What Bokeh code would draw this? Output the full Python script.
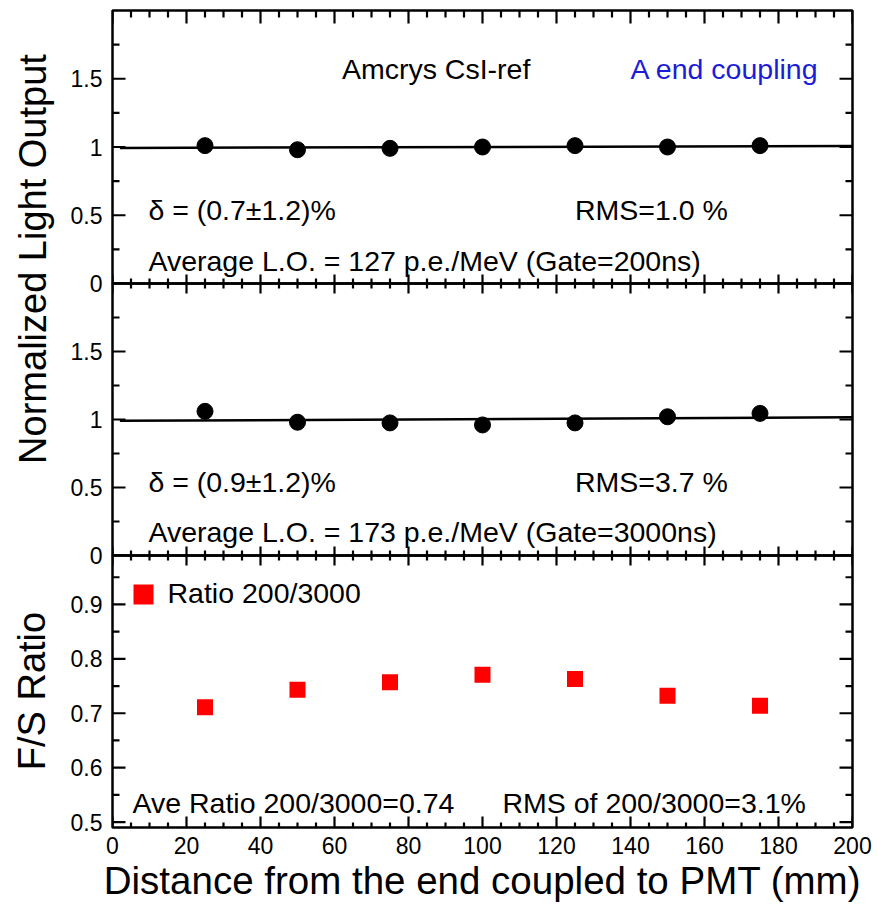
import numpy as np
from bokeh.plotting import figure
from bokeh.models import Range1d, LinearAxis, FixedTicker, Label, Legend, LegendItem
from bokeh.layouts import row, column
from bokeh.embed import file_html
from bokeh.resources import INLINE

FONT = "Liberation Sans"

# ---------------- data ----------------
distance_mm = [25, 50, 75, 100, 125, 150, 175]
lo_gate200 = [1.01, 0.98, 0.99, 1.00, 1.01, 1.00, 1.01]
lo_gate3000 = [1.06, 0.98, 0.975, 0.96, 0.975, 1.02, 1.045]
fs_ratio = [0.711, 0.743, 0.757, 0.771, 0.763, 0.732, 0.714]

fit_x = [2, 200]
fit_gate200 = [0.993, 1.007]
fit_gate3000 = [0.99, 1.017]

x_ticks = [0, 20, 40, 60, 80, 100, 120, 140, 160, 180, 200]
x_tick_labels = ["0", "20", "40", "60", "80", "100", "120", "140", "160", "180", "200"]
x_minor = [5, 10, 15, 25, 30, 35, 45, 50, 55, 65, 70, 75, 85, 90, 95,
           105, 110, 115, 125, 130, 135, 145, 150, 155, 165, 170, 175, 185, 190, 195]

lo_ticks = [0, 0.5, 1, 1.5]
lo_tick_labels = ["0", "0.5", "1", "1.5"]
lo_minor = [0.25, 0.75, 1.25, 1.75]

fs_ticks = [0.5, 0.6, 0.7, 0.8, 0.9]
fs_tick_labels = ["0.5", "0.6", "0.7", "0.8", "0.9"]
fs_minor = [0.55, 0.65, 0.75, 0.85, 0.95]

# ---------------- layout constants ----------------
X0, X1 = 0, 200
TITLE_W = 60
FIG_W = 815
FRAME_W = 740
LEFT_B = 52
RIGHT_B = FIG_W - LEFT_B - FRAME_W
OVER = 14   # extra border used for overlapping neighbouring panels
x_range = Range1d(X0, X1)
PX_X = (X1 - X0) / FRAME_W   # data units per screen pixel along x
TICK_W = 2.2                 # tick thickness in pixels


def label_axis(p, side, ticks, labels, standoff):
    ax = LinearAxis(ticker=FixedTicker(ticks=ticks),
                    major_label_overrides=dict(zip(ticks, labels)))
    ax.axis_line_color = None
    ax.major_tick_in = 0
    ax.major_tick_out = 0
    ax.minor_tick_in = 0
    ax.minor_tick_out = 0
    ax.major_tick_line_color = None
    ax.minor_tick_line_color = None
    ax.major_label_text_font = FONT
    ax.major_label_text_font_size = "23px"
    ax.major_label_text_color = "black"
    ax.major_label_standoff = standoff
    p.add_layout(ax, side)
    return ax


def tick_quads(p, left, right, bottom, top):
    p.quad(left=left, right=right, bottom=bottom, top=top,
           fill_color="black", fill_alpha=1.0, line_color=None)


def y_ticks(p, major, minor, px_y):
    half = TICK_W / 2 * px_y
    for vals, length in ((major, 13), (minor, 7)):
        n = len(vals)
        lo = [v - half for v in vals]
        hi = [v + half for v in vals]
        tick_quads(p, [X0] * n, [X0 + length * PX_X] * n, lo, hi)
        tick_quads(p, [X1 - length * PX_X] * n, [X1] * n, lo, hi)


def x_ticks_at(p, y, direction, px_y, major_len, minor_len):
    half = TICK_W / 2 * PX_X
    for vals, length in ((x_ticks, major_len), (x_minor, minor_len)):
        n = len(vals)
        y_end = y + direction * length * px_y
        tick_quads(p, [v - half for v in vals], [v + half for v in vals],
                   [min(y, y_end)] * n, [max(y, y_end)] * n)


def make_panel(height, y_range, top_b, bottom_b):
    p = figure(width=FIG_W, height=height, x_range=x_range, y_range=y_range,
               output_backend="svg", toolbar_location=None,
               x_axis_location=None, y_axis_location=None,
               min_border_left=LEFT_B, min_border_right=RIGHT_B,
               min_border_top=top_b, min_border_bottom=bottom_b)
    p.grid.visible = False
    p.outline_line_color = "black"
    p.outline_line_width = 2.5
    p.background_fill_color = None
    p.border_fill_color = None
    return p


def add_text(p, x, y, text, color="black"):
    p.add_layout(Label(x=x, y=y, text=text, text_font=FONT, text_font_size="28.5px",
                       text_color=color, text_align="left", text_baseline="middle"))


# ---------------- panel 1 ----------------
H1 = 273
p1 = make_panel(10 + H1 + OVER, Range1d(0, 2), 10, OVER)
py1 = 2 / H1
label_axis(p1, "left", lo_ticks, lo_tick_labels, 10)
p1.line(fit_x, fit_gate200, line_color="black", line_width=2.5)
p1.scatter(distance_mm, lo_gate200, size=16, marker="circle",
           fill_color="black", line_color="black")
y_ticks(p1, lo_ticks, lo_minor, py1)
x_ticks_at(p1, 2, -1, py1, 13, 7)
x_ticks_at(p1, 0, 1, py1, 9, 5)
add_text(p1, 62, 1.575, "Amcrys CsI-ref")
add_text(p1, 140, 1.575, "A end coupling", color="#1c1cd8")
add_text(p1, 9.7, 0.542, "\u03b4 = (0.7\u00b11.2)%")
add_text(p1, 125, 0.542, "RMS=1.0 %")
add_text(p1, 9.7, 0.168, "Average L.O. = 127 p.e./MeV (Gate=200ns)")

# ---------------- panel 2 ----------------
H2 = 272
p2 = make_panel(OVER + H2 + OVER, Range1d(0, 2), OVER, OVER)
p2.margin = (-2 * OVER, 0, 0, 0)
py2 = 2 / H2
label_axis(p2, "left", lo_ticks, lo_tick_labels, 10)
p2.line(fit_x, fit_gate3000, line_color="black", line_width=2.5)
p2.scatter(distance_mm, lo_gate3000, size=16, marker="circle",
           fill_color="black", line_color="black")
y_ticks(p2, lo_ticks, lo_minor, py2)
x_ticks_at(p2, 2, -1, py2, 10, 5)
x_ticks_at(p2, 0, 1, py2, 9, 5)
add_text(p2, 9.7, 0.544, "\u03b4 = (0.9\u00b11.2)%")
add_text(p2, 125, 0.544, "RMS=3.7 %")
add_text(p2, 9.7, 0.176, "Average L.O. = 173 p.e./MeV (Gate=3000ns)")

# ---------------- panel 3 ----------------
H3 = 272
p3 = make_panel(OVER + H3 + 80, Range1d(0.49, 0.99), OVER, 80)
p3.margin = (-2 * OVER, 0, 0, 0)
py3 = 0.5 / H3
label_axis(p3, "left", fs_ticks, fs_tick_labels, 10)
bottom = label_axis(p3, "below", x_ticks, x_tick_labels, 9)
bottom.axis_label = "Distance from the end coupled to PMT (mm)"
bottom.axis_label_text_font = FONT
bottom.axis_label_text_font_size = "38.5px"
bottom.axis_label_text_font_style = "normal"
bottom.axis_label_text_color = "black"
bottom.axis_label_standoff = 2
r3 = p3.scatter(distance_mm, fs_ratio, size=16, marker="square",
                fill_color="red", line_color=None)
y_ticks(p3, fs_ticks, fs_minor, py3)
x_ticks_at(p3, 0.99, -1, py3, 10, 5)
x_ticks_at(p3, 0.49, 1, py3, 11, 5)
legend = Legend(items=[LegendItem(label="Ratio 200/3000", renderers=[r3])],
                location=(5.5, 208.5), glyph_width=50, glyph_height=50,
                padding=0, margin=0, spacing=0, label_standoff=0,
                border_line_color=None, background_fill_alpha=0,
                label_text_font=FONT, label_text_font_size="28.5px",
                label_text_color="black")
p3.add_layout(legend)
add_text(p3, 5.4, 0.535, "Ave Ratio 200/3000=0.74")
add_text(p3, 105.4, 0.535, "RMS of 200/3000=3.1%")

# ---------------- y-axis titles ----------------
TOTAL_H = (10 + H1 + OVER) + (H2 + OVER) + (H3 + 80 - OVER)
tp = figure(width=TITLE_W, height=TOTAL_H, x_range=Range1d(0, TITLE_W),
            y_range=Range1d(TOTAL_H, 0), output_backend="svg",
            toolbar_location=None, x_axis_location=None, y_axis_location=None,
            min_border=0)
tp.outline_line_color = None
tp.grid.visible = False
tp.background_fill_color = None
tp.border_fill_color = None
tp.add_layout(Label(x=32, y=258.5, text="Normalized Light Output", angle=np.pi / 2,
                    text_font=FONT, text_font_size="38px", text_align="center",
                    text_baseline="middle", text_color="black"))
tp.add_layout(Label(x=31, y=690.5, text="F/S Ratio", angle=np.pi / 2,
                    text_font=FONT, text_font_size="38px", text_align="center",
                    text_baseline="middle", text_color="black"))

layout = row(tp, column(p1, p2, p3, spacing=0), spacing=0)
open("out.html", "w").write(file_html(layout, INLINE))
